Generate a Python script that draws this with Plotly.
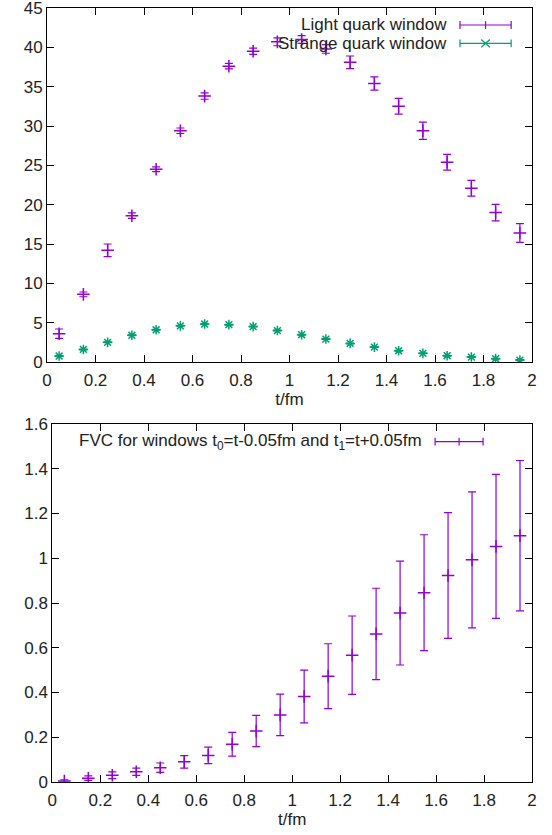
import plotly.graph_objects as go

# ---- data ----
t = [0.05, 0.15, 0.25, 0.35, 0.45, 0.55, 0.65, 0.75, 0.85, 0.95,
     1.05, 1.15, 1.25, 1.35, 1.45, 1.55, 1.65, 1.75, 1.85, 1.95]

light = [3.6, 8.6, 14.2, 18.6, 24.5, 29.4, 33.8, 37.6, 39.5, 40.7,
         41.0, 39.8, 38.1, 35.4, 32.5, 29.4, 25.4, 22.1, 19.0, 16.4]
light_err = [0.6, 0.3, 0.8, 0.35, 0.3, 0.35, 0.4, 0.35, 0.4, 0.5,
             0.5, 0.55, 0.8, 0.85, 1.0, 1.1, 1.0, 1.0, 1.05, 1.2]

strange = [0.76, 1.6, 2.5, 3.4, 4.1, 4.6, 4.83, 4.75, 4.5, 4.0,
           3.47, 2.92, 2.37, 1.9, 1.44, 1.1, 0.8, 0.63, 0.43, 0.25]
strange_err = [0.05, 0.05, 0.05, 0.05, 0.05, 0.05, 0.05, 0.05, 0.05, 0.05,
               0.05, 0.05, 0.05, 0.05, 0.05, 0.05, 0.05, 0.05, 0.05, 0.05]

fvc = [0.004, 0.017, 0.030, 0.046, 0.064, 0.090, 0.119, 0.169, 0.228, 0.300,
       0.382, 0.473, 0.567, 0.662, 0.755, 0.846, 0.923, 0.993, 1.053, 1.101]
fvc_err = [0.006, 0.010, 0.015, 0.016, 0.021, 0.028, 0.037, 0.053, 0.070, 0.093,
           0.118, 0.145, 0.175, 0.204, 0.232, 0.259, 0.281, 0.304, 0.322, 0.336]

top_yticks = [0, 5, 10, 15, 20, 25, 30, 35, 40, 45]
bot_yticks = [0, 0.2, 0.4, 0.6, 0.8, 1, 1.2, 1.4, 1.6]
xticks = [0, 0.2, 0.4, 0.6, 0.8, 1, 1.2, 1.4, 1.6, 1.8, 2]

PURPLE = "#9400D3"
GREEN = "#009E73"
FONT = "Liberation Sans, Arial, sans-serif"
FS = 17

fig = go.Figure()

fig.add_trace(go.Scatter(
    x=t, y=light, mode="markers", name="Light quark window",
    marker=dict(symbol="cross-thin-open", size=9, color=PURPLE,
                line=dict(color=PURPLE, width=1.5)),
    error_y=dict(type="data", array=light_err, color=PURPLE, thickness=1.2, width=4),
    xaxis="x", yaxis="y", showlegend=False))

fig.add_trace(go.Scatter(
    x=t, y=strange, mode="markers", name="Strange quark window",
    marker=dict(symbol="asterisk-open", size=8, color=GREEN,
                line=dict(color=GREEN, width=1.5)),
    error_y=dict(type="data", array=strange_err, color=GREEN, thickness=1.2, width=4),
    xaxis="x", yaxis="y", showlegend=False))

fig.add_trace(go.Scatter(
    x=t, y=fvc, mode="markers", name="FVC",
    marker=dict(symbol="cross-thin-open", size=9, color=PURPLE,
                line=dict(color=PURPLE, width=1.5)),
    error_y=dict(type="data", array=fvc_err, color=PURPLE, thickness=1.2, width=4),
    xaxis="x2", yaxis="y2", showlegend=False))

axis_common = dict(showline=True, linecolor="black", linewidth=1, mirror="ticks",
                   ticks="inside", ticklen=7, tickcolor="black", tickwidth=1,
                   showgrid=False, zeroline=False, automargin=False,
                   ticklabeloverflow="allow",
                   tickfont=dict(family=FONT, size=FS, color="#222"))

fig.update_layout(
    width=552, height=835,
    margin=dict(l=47, r=20, t=8, b=53),
    paper_bgcolor="white", plot_bgcolor="white",
    font=dict(family=FONT, size=FS, color="#222"),
    xaxis=dict(domain=[0, 1], range=[0, 2], tickvals=xticks, anchor="y",
               ticklabelstandoff=3,
               title=dict(text="t/fm", standoff=2, font=dict(size=FS)), **axis_common),
    yaxis=dict(domain=[0.5426, 1], range=[0, 45], tickvals=top_yticks, anchor="x",
               **axis_common),
    xaxis2=dict(domain=[0.011, 1], range=[0, 2], tickvals=xticks, anchor="y2",
                ticklabelstandoff=3,
                title=dict(text="t/fm", standoff=2, font=dict(size=FS)), **axis_common),
    yaxis2=dict(domain=[0, 0.4625], range=[0, 1.6], tickvals=bot_yticks, anchor="x2",
                **axis_common),
)

# ---- manual gnuplot-style legend keys (text left of key sample) ----
def key(xref, yref, x0, x1, y, color, center, text, textx):
    cap = 0.011
    shapes = [
        dict(type="line", xref=xref, yref=yref, x0=x0, x1=x1, y0=y, y1=y,
             line=dict(color=color, width=1.2)),
        dict(type="line", xref=xref, yref=yref, x0=x0, x1=x0, y0=y - cap, y1=y + cap,
             line=dict(color=color, width=1.2)),
        dict(type="line", xref=xref, yref=yref, x0=x1, x1=x1, y0=y - cap, y1=y + cap,
             line=dict(color=color, width=1.2)),
    ]
    xc = (x0 + x1) / 2
    if center == "+":
        shapes.append(dict(type="line", xref=xref, yref=yref, x0=xc, x1=xc,
                           y0=y - cap, y1=y + cap, line=dict(color=color, width=1.2)))
    else:
        dx = 0.009
        shapes.append(dict(type="line", xref=xref, yref=yref, x0=xc - dx, x1=xc + dx,
                           y0=y - cap, y1=y + cap, line=dict(color=color, width=1.2)))
        shapes.append(dict(type="line", xref=xref, yref=yref, x0=xc - dx, x1=xc + dx,
                           y0=y + cap, y1=y - cap, line=dict(color=color, width=1.2)))
    for s in shapes:
        fig.add_shape(**s)
    fig.add_annotation(xref=xref, yref=yref, x=textx, y=y, text=text, showarrow=False,
                       xanchor="right", yanchor="middle",
                       font=dict(family=FONT, size=FS, color="#222"))

key("x domain", "y domain", 0.8515, 0.957, 0.952, PURPLE, "+", "Light quark window", 0.829)
key("x domain", "y domain", 0.8515, 0.957, 0.900, GREEN, "x", "Strange quark window", 0.829)
key("x2 domain", "y2 domain", 0.798, 0.898, 0.951, PURPLE, "+",
    "FVC for windows t<sub>0</sub>=t-0.05fm and t<sub>1</sub>=t+0.05fm", 0.775)

fig.write_html("out.html")
